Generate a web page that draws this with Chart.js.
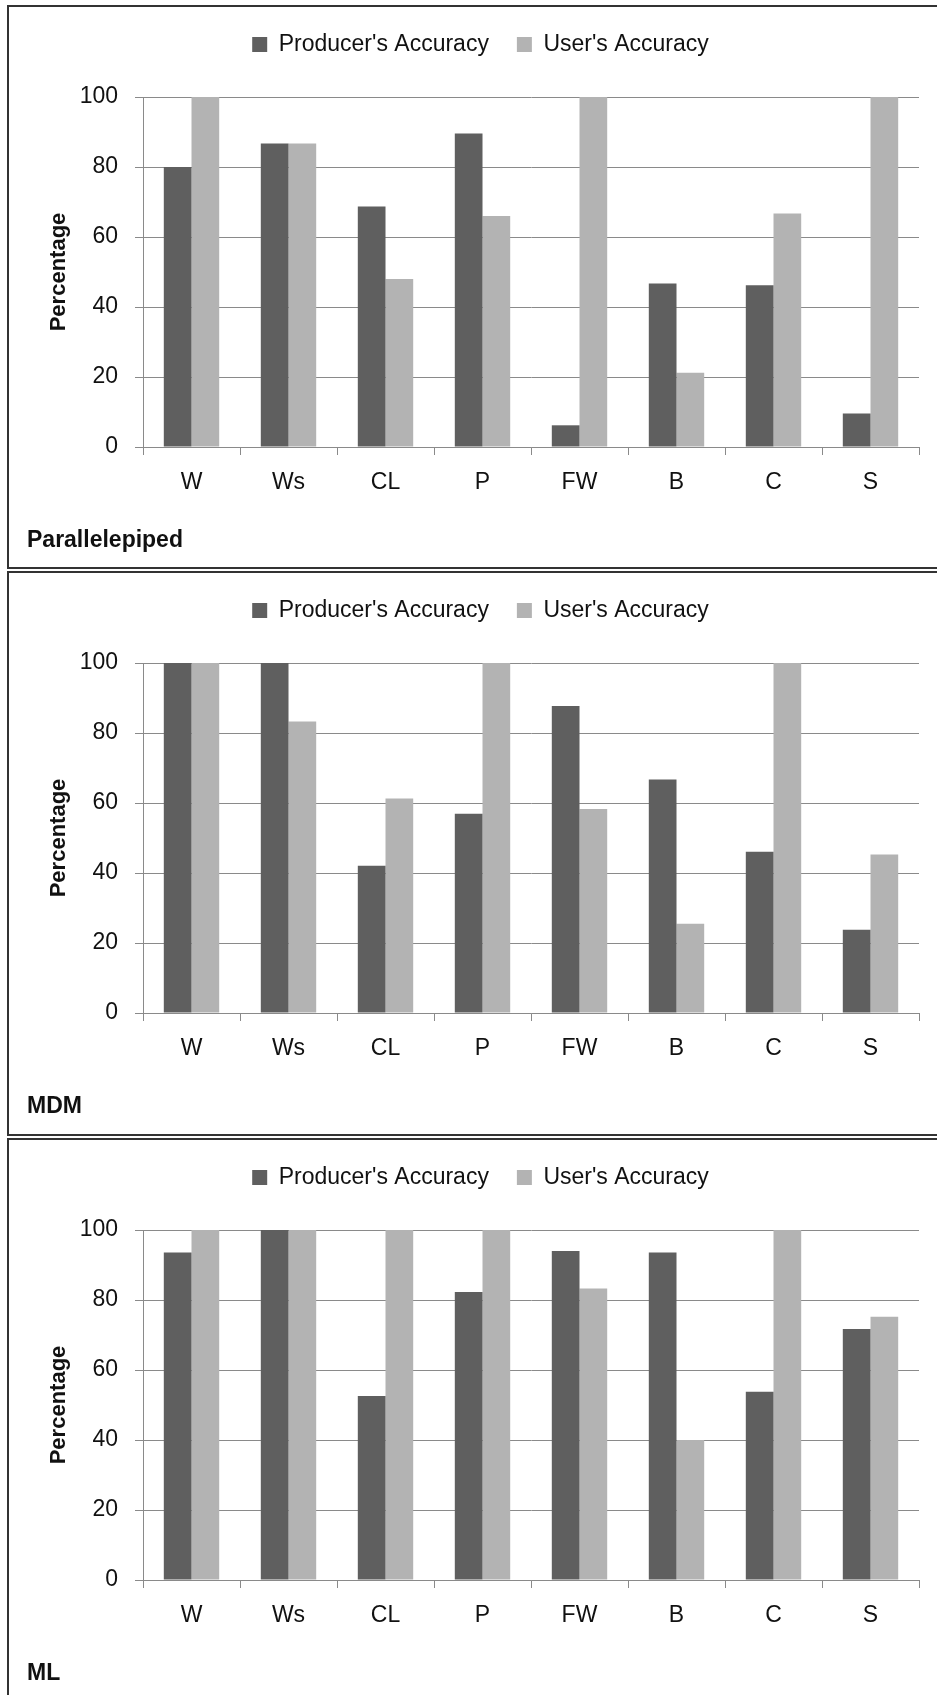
<!DOCTYPE html>
<html>
<head>
<meta charset="utf-8">
<script src="https://cdn.jsdelivr.net/npm/chart.js@4/dist/chart.umd.min.js"></script>
<style>
  body { margin: 0; background: #fff; width: 937px; height: 1695px; overflow: hidden; position: relative; }
  .panel { position: absolute; left: 7px; width: 942px; height: 560px; border: 2px solid #333; background: #fff; }
  .panel canvas { position: absolute; left: 0; top: 0; }
  .name { position: absolute; left: 18px; top: 521px; font: bold 23px/22px 'Liberation Sans', Arial, sans-serif; color: #111; }
</style>
</head>
<body>
<div class="panel" style="top:5px"><canvas id="c1" width="943" height="560"></canvas><div class="name">Parallelepiped</div></div>
<div class="panel" style="top:571px;height:561px"><canvas id="c2" width="943" height="560"></canvas><div class="name">MDM</div></div>
<div class="panel" style="top:1138px;height:561px"><canvas id="c3" width="943" height="560"></canvas><div class="name">ML</div></div>
<script>
const categories = ['W', 'Ws', 'CL', 'P', 'FW', 'B', 'C', 'S'];
const seriesNames = ["Producer's Accuracy", "User's Accuracy"];
const yTicks = [0, 20, 40, 60, 80, 100];

const parallelepipedProducer = [80, 86.7, 68.7, 89.6, 6.2, 46.7, 46.2, 9.6];
const parallelepipedUser = [100, 86.7, 48, 66, 100, 21.2, 66.7, 100];

const mdmProducer = [100, 100, 42.1, 56.9, 87.7, 66.7, 46.1, 23.8];
const mdmUser = [100, 83.3, 61.3, 100, 58.3, 25.5, 100, 45.3];

const mlProducer = [93.6, 100, 52.6, 82.3, 94, 93.6, 53.8, 71.7];
const mlUser = [100, 100, 100, 100, 83.3, 40, 100, 75.2];

const FONT = "'Liberation Sans', Arial, sans-serif";
const gridColor = '#8a8a8a';
const LEGEND_SHIFT = -2;

// push the plot down below the legend
const legendSpacer = {
    id: 'legendSpacer',
    beforeInit(chart) {
        const fit = chart.legend.fit;
        chart.legend.fit = function() {
            fit.call(this);
            this.height = 90 - LEGEND_SHIFT;
        };
    }
};

function makeChart(id, producer, user) {
    const ctx = document.getElementById(id).getContext('2d');
    return new Chart(ctx, {
        type: 'bar',
        data: {
            labels: categories,
            datasets: [{
                label: seriesNames[0],
                data: producer,
                backgroundColor: '#5f5f5f',
                borderWidth: 0,
                categoryPercentage: 0.571,
                barPercentage: 1.0
            }, {
                label: seriesNames[1],
                data: user,
                backgroundColor: '#b3b3b3',
                borderWidth: 0,
                categoryPercentage: 0.571,
                barPercentage: 1.0
            }]
        },
        options: {
            responsive: false,
            animation: false,
            layout: { padding: { top: LEGEND_SHIFT, left: 0, right: 0, bottom: 0 } },
            plugins: {
                legend: {
                    position: 'top',
                    labels: {
                        boxWidth: 15,
                        boxHeight: 15,
                        padding: 28,
                        color: '#111',
                        font: { family: FONT, size: 23 }
                    }
                },
                tooltip: { enabled: false }
            },
            scales: {
                x: {
                    afterFit: (s) => { s.height = 120; },
                    grid: { offset: true, drawOnChartArea: false, drawTicks: true, tickLength: 8, color: gridColor },
                    border: { display: true, color: gridColor },
                    ticks: { color: '#111', padding: 14, font: { family: FONT, size: 23 } }
                },
                y: {
                    min: 0,
                    max: 100,
                    afterFit: (s) => { s.width = 134; },
                    afterBuildTicks: (s) => { s.ticks = yTicks.map(v => ({ value: v })); },
                    grid: { color: gridColor, tickLength: 8 },
                    border: { display: true, color: gridColor },
                    ticks: { color: '#111', padding: 17, font: { family: FONT, size: 23 } },
                    title: {
                        display: true,
                        text: 'Percentage',
                        color: '#111',
                        padding: { top: 37, bottom: 0 },
                        font: { family: FONT, size: 22, weight: 'bold' }
                    }
                },
                // empty right margin so the legend stays centred on the whole panel
                yRight: {
                    type: 'linear',
                    position: 'right',
                    afterFit: (s) => { s.width = 33; },
                    grid: { display: false },
                    border: { display: false },
                    ticks: { display: false }
                }
            }
        },
        plugins: [legendSpacer]
    });
}

makeChart('c1', parallelepipedProducer, parallelepipedUser);
makeChart('c2', mdmProducer, mdmUser);
makeChart('c3', mlProducer, mlUser);
</script>
</body>
</html>
